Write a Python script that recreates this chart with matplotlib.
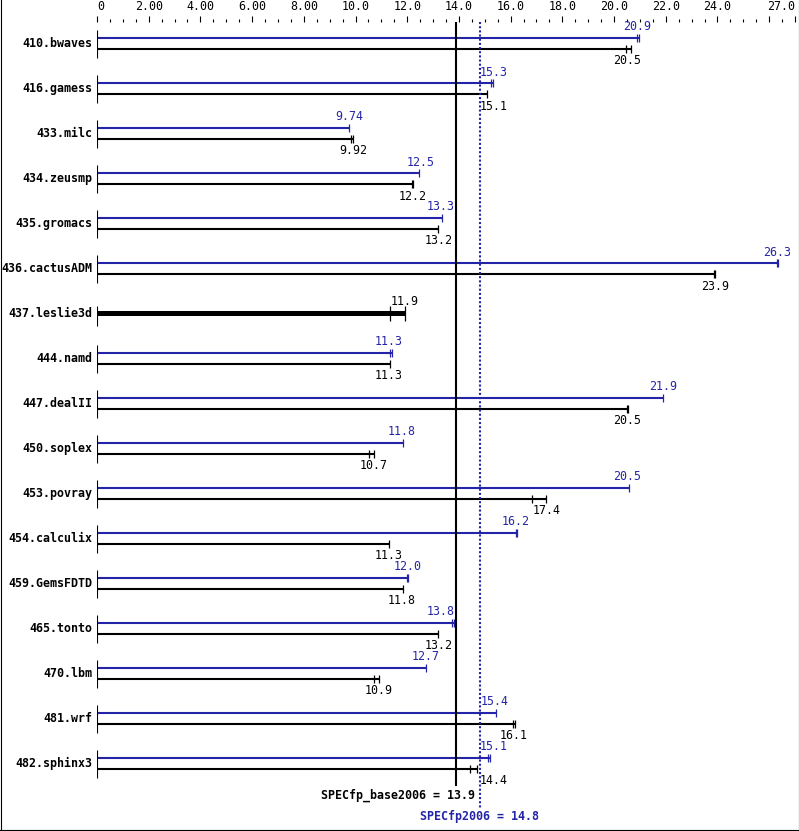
import matplotlib
matplotlib.use("Agg")
import matplotlib.pyplot as plt
from matplotlib.lines import Line2D

# benchmark names, printed labels and the individual run results
benchmarks = ["410.bwaves", "416.gamess", "433.milc", "434.zeusmp", "435.gromacs",
              "436.cactusADM", "437.leslie3d", "444.namd", "447.dealII", "450.soplex",
              "453.povray", "454.calculix", "459.GemsFDTD", "465.tonto", "470.lbm",
              "481.wrf", "482.sphinx3"]
peak_labels = ["20.9", "15.3", "9.74", "12.5", "13.3", "26.3", "", "11.3", "21.9", "11.8",
               "20.5", "16.2", "12.0", "13.8", "12.7", "15.4", "15.1"]
base_labels = ["20.5", "15.1", "9.92", "12.2", "13.2", "23.9", "11.9", "11.3", "20.5", "10.7",
               "17.4", "11.3", "11.8", "13.2", "10.9", "16.1", "14.4"]
peak_runs = [[20.90, 20.98], [15.26, 15.30], [9.75], [12.47], [13.36], [26.32, 26.36], [],
             [11.33, 11.40], [21.88], [11.83], [20.56], [16.22, 16.26], [11.98, 12.02],
             [13.75, 13.81], [12.74], [15.45], [15.14, 15.21]]
base_runs = [[20.46, 20.66], [15.09], [9.84, 9.92], [12.18, 12.22], [13.18], [23.86, 23.90],
             [11.33, 11.91], [11.33], [20.51, 20.55], [10.53, 10.70], [16.83, 17.37], [11.30],
             [11.84], [13.20], [10.70, 10.90], [16.11, 16.15], [14.44, 14.71]]
spec_base = 13.9
spec_peak = 14.8

major_ticks = [0, 2, 4, 6, 8, 10, 12, 14, 16, 18, 20, 22, 24, 26, 27]
major_labels = ["0", "2.00", "4.00", "6.00", "8.00", "10.0", "12.0", "14.0", "16.0",
                "18.0", "20.0", "22.0", "24.0", "", "27.0"]

blue = "#2424a8"
mono = "DejaVu Sans Mono"
fs = 8.4


def label_x(v):
    # keep value labels off the two score lines
    if abs(v - spec_peak) < 0.55:
        return spec_peak + 0.54
    if abs(v - spec_base) < 0.55:
        return spec_base - 0.62
    return v


W, H = 799, 831
fig = plt.figure(figsize=(W / 100, H / 100), dpi=100)
# axes: x=0 at pixel 97, x=27 at pixel 795; y data is in pixels from the top
ax = fig.add_axes([97 / W, 0, (795 - 97) / W, (H - 22) / H])
ax.set_xlim(0, 27)
ax.set_ylim(H, 22)
for s in ax.spines.values():
    s.set_visible(False)
ax.set_yticks([])

ax.xaxis.tick_top()
ax.set_xticks(major_ticks)
ax.set_xticklabels(major_labels, fontfamily=mono, fontsize=fs)
ax.set_xticks([k * 0.5 for k in range(55)], minor=True)
ax.tick_params(axis="x", which="major", length=4.4, width=0.8, pad=2, direction="out")
ax.tick_params(axis="x", which="minor", length=2.2, width=0.8, direction="out")
tl = ax.get_xticklabels()
tl[0].set_ha("left")
tl[-1].set_ha("right")

row_top = 38
row_step = 45
for i, name in enumerate(benchmarks):
    yp = row_top + i * row_step
    yb = yp + 11
    if peak_runs[i]:
        ax.hlines(yp, 0, max(peak_runs[i]), color=blue, lw=1.5)
        ax.vlines(peak_runs[i], yp - 4, yp + 4, color=blue, lw=0.9)
        ax.text(label_x(float(peak_labels[i])), yp - 11, peak_labels[i], color=blue,
                ha="center", va="center", fontfamily=mono, fontsize=fs)
        ax.hlines(yb, 0, max(base_runs[i]), color="black", lw=1.5)
        ax.vlines(base_runs[i], yb - 4, yb + 4, color="black", lw=0.9)
        ax.text(label_x(float(base_labels[i])), yb + 12, base_labels[i], color="black",
                ha="center", va="center", fontfamily=mono, fontsize=fs)
        ax.vlines(0, yp - 8, yb + 9, color="black", lw=0.8)
        ym = (yp + yb) / 2
    else:
        ym = (yp + yb) / 2
        ax.hlines(ym, 0, max(base_runs[i]), color="black", lw=3.6)
        ax.vlines(base_runs[i], ym - 7, ym + 8, color="black", lw=0.9)
        ax.text(label_x(float(base_labels[i])), ym - 12, base_labels[i], color="black",
                ha="center", va="center", fontfamily=mono, fontsize=fs)
        ax.vlines(0, ym - 7, ym + 13, color="black", lw=0.8)
    ax.text(-0.16, ym, name, ha="right", va="center", fontfamily=mono, fontsize=fs,
            fontweight="bold", clip_on=False)

# overall scores
ax.vlines(spec_base, 22, 786, color="black", lw=1.5)
ax.vlines(spec_peak, 22, 808, color=blue, lw=1.5, linestyles=(0, (1, 1)))
ax.text(spec_base + 0.72, 795, "SPECfp_base2006 = %.1f" % spec_base, ha="right", va="center",
        fontfamily=mono, fontsize=fs, fontweight="bold", color="black")
ax.text(spec_peak, 817, "SPECfp2006 = %.1f" % spec_peak, ha="center", va="center",
        fontfamily=mono, fontsize=fs, fontweight="bold", color=blue)

# frame around the picture
fig.add_artist(Line2D([0.5 / W, 0.5 / W], [0, 1], color="black", lw=0.8))
fig.add_artist(Line2D([1 - 0.5 / W, 1 - 0.5 / W], [0, 1], color="black", lw=0.8))
fig.add_artist(Line2D([0, 1], [1.5 / H, 1.5 / H], color="black", lw=0.8))

fig.savefig("out.png", dpi=100)
